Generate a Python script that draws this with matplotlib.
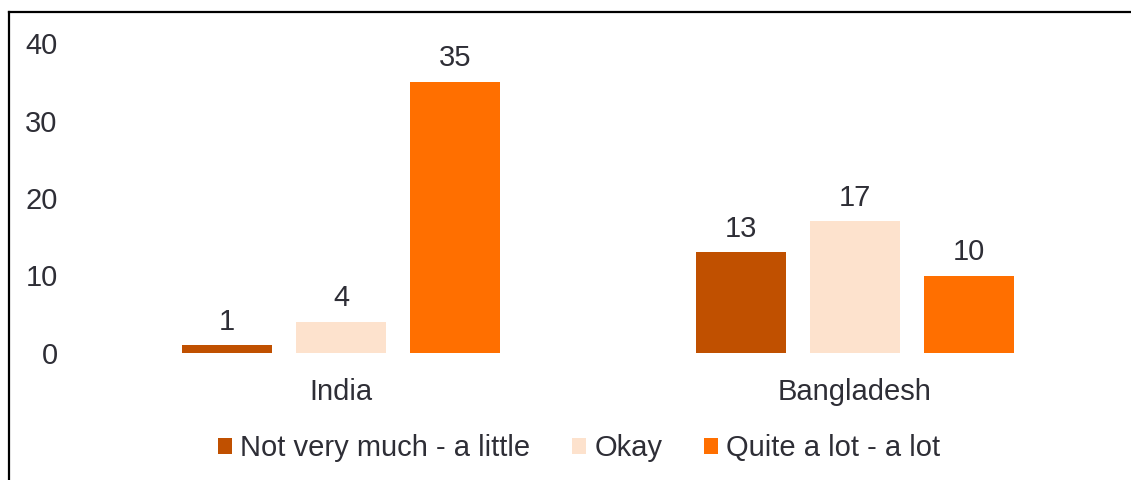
import matplotlib
matplotlib.use("Agg")
import matplotlib.pyplot as plt
from matplotlib.patches import Patch
from matplotlib.lines import Line2D
import numpy as np

categories = ["India", "Bangladesh"]
series_names = ["Not very much - a little", "Okay", "Quite a lot - a lot"]
not_very_much = [1, 13]
okay = [4, 17]
quite_a_lot = [35, 10]
yticks = [0, 10, 20, 30, 40]

colors = ["#C05000", "#FDE2CD", "#FF6F00"]
text_color = "#2E2E36"

plt.rcParams['font.family'] = ['Liberation Sans', 'DejaVu Sans']

fig = plt.figure(figsize=(11.31, 4.8), dpi=100)
ax = fig.add_axes([84/1131, 127/480, (1112-84)/1131, (353-43)/480])

x = np.arange(len(categories))
width = 0.175
offset = 0.222
all_series = [not_very_much, okay, quite_a_lot]
for i, (vals, c) in enumerate(zip(all_series, colors)):
    bars = ax.bar(x + (i - 1) * offset, vals, width=width, color=c, edgecolor='none')
    for b, v in zip(bars, vals):
        ax.annotate(str(v), (b.get_x() + b.get_width() / 2, b.get_height()),
                    xytext=(0, 7), textcoords='offset points', ha='center', va='bottom',
                    fontsize=21, color=text_color)

ax.set_xlim(-0.5, 1.5)
ax.set_ylim(0, 40)
ax.set_yticks(yticks)
ax.set_xticks(x)
ax.set_xticklabels(categories)
ax.tick_params(axis='both', length=0, labelsize=21, colors=text_color)
ax.tick_params(axis='y', pad=19)
ax.tick_params(axis='x', pad=18)
for s in ax.spines.values():
    s.set_visible(False)

handles = [Patch(facecolor=c, edgecolor='none') for c in colors]
fig.legend(handles, series_names, loc='center', bbox_to_anchor=(0.512, 32/480), ncol=3,
           frameon=False, fontsize=21, labelcolor=text_color, handlelength=0.48,
           handleheight=0.48, handletextpad=0.28, columnspacing=1.42)

fig.add_artist(Line2D([8.5/1131, 8.5/1131], [0, 1 - 12/480], transform=fig.transFigure,
                      color='black', linewidth=1.6))
fig.add_artist(Line2D([8.5/1131, 1], [1 - 12/480, 1 - 12/480], transform=fig.transFigure,
                      color='black', linewidth=1.6))

fig.savefig("out.png", dpi=100)
